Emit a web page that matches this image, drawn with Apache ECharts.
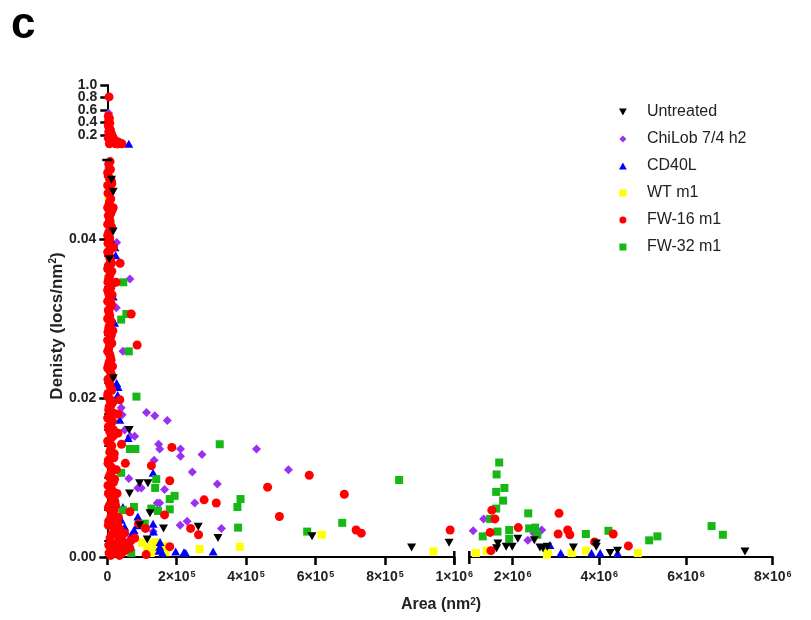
<!DOCTYPE html>
<html><head><meta charset="utf-8">
<script src="https://cdn.jsdelivr.net/npm/echarts@6/dist/echarts.min.js"></script>
<style>html,body{margin:0;padding:0;background:#fff}#c{width:811px;height:620px}</style>
</head><body><div id="c"></div>
<script>
// ---------------- DATA (x = area nm^2, y = density locs/nm^2) ----------------
const seriesNames = ['Untreated', 'ChiLob 7/4 h2', 'CD40L', 'WT m1', 'FW-16 m1', 'FW-32 m1'];

const xTicksLeft = [0, 200000, 400000, 600000, 800000, 1000000];
const xTicksRight = [2000000, 4000000, 6000000, 8000000];
const yTicksLow = [0, 0.02, 0.04];
const yTicksHigh = [0.2, 0.4, 0.6, 0.8, 1.0];
const yLabelsHighA = [0.2, 0.6, 1.0];
const yLabelsHighB = [0.4, 0.8];

const untreated = [
  [12000,0.0475],[17000,0.046],[17000,0.041],[6000,0.0375],[17000,0.0225],
  [63000,0.016],[93000,0.0093],[117000,0.0093],[64000,0.008],[123000,0.0055],[93000,0.004],
  [262000,0.0038],[162000,0.0036],[115000,0.0022],[319000,0.0024],[590000,0.0026],[877000,0.0012],[985000,0.0018],
  [1660000,0.0017],[1630000,0.0011],[1850000,0.0013],[1990000,0.0013],[2120000,0.0023],[2500000,0.0021],
  [2630000,0.0012],[2700000,0.0011],[2800000,0.0013],[3400000,0.0012],[3930000,0.0017],[3930000,0.0013],
  [4250000,0.0005],[4420000,0.0008],[7360000,0.0007]
];

const chilob = [
  [4000,0.049],[6000,0.0475],[5000,0.046],[9000,0.043],[8000,0.041],[27000,0.0396],[65000,0.035],
  [26000,0.0314],[45000,0.0259],[40000,0.0188],[43000,0.0179],
  [113000,0.0182],[137000,0.0178],[173000,0.0172],[50000,0.016],[66000,0.0152],[79000,0.0152],
  [148000,0.0142],[151000,0.0136],[211000,0.0136],[211000,0.0127],[273000,0.0129],[430000,0.0136],
  [135000,0.0122],[245000,0.0107],[522000,0.011],[62000,0.0099],[317000,0.0092],[88000,0.0087],
  [98000,0.0087],[165000,0.0085],[144000,0.0068],[151000,0.0068],[252000,0.0068],[210000,0.004],
  [230000,0.0045],[329000,0.0036],[132000,0.0032],
  [1090000,0.0033],[1330000,0.0048],[2350000,0.0021],[2490000,0.003],[2670000,0.0034],
  [4000,0.55]
];

const cd40l = [
  [8000,0.0425],[10000,0.04],[5000,0.044],[6000,0.0405],[22000,0.039],[24000,0.038],[17000,0.0328],
  [21000,0.0295],[27000,0.0219],[30000,0.0204],[26000,0.0217],[31000,0.0214],[36000,0.0173],[60000,0.015],
  [132000,0.0106],[45000,0.0063],[88000,0.0051],[40000,0.0047],[132000,0.0042],[86000,0.004],
  [50000,0.0038],[77000,0.0034],[133000,0.0032],[69000,0.0028],[64000,0.0021],[152000,0.0019],
  [151000,0.0013],[149000,0.0008],[159000,0.0005],[197000,0.0007],[221000,0.0006],[226000,0.0005],
  [305000,0.0007],[15000,0.006],[25000,0.003],[35000,0.001],
  [2860000,0.0015],[3110000,0.0005],[3820000,0.0005],[4020000,0.0005],[4420000,0.0005],
  [62000,0.06]
];

const wt = [
  [3000,0.0454],
  [100000,0.0018],[115000,0.0012],[130000,0.0016],[145000,0.0009],[160000,0.0014],[168000,0.0006],
  [125000,0.0005],[138000,0.0019],[266000,0.001],[382000,0.0013],[618000,0.0028],[940000,0.0007],
  [1150000,0.0005],[1400000,0.0008],[2790000,0.0003],[2820000,0.0007],[3360000,0.0005],[3690000,0.0008],[4890000,0.0005]
];

const fw16Column = [
  [4000,0.0495],[9000,0.0488],[3000,0.048],[12000,0.0472],[6000,0.0465],[2000,0.0458],[10000,0.0451],
  [5000,0.0444],[14000,0.0437],[3000,0.043],[8000,0.0423],[12000,0.0416],[4000,0.0409],[7000,0.0402],
  [2000,0.0395],[11000,0.0388],[5000,0.0381],[9000,0.0374],[3000,0.0367],[13000,0.036],[6000,0.0353],
  [2000,0.0346],[10000,0.0339],[4000,0.0332],[8000,0.0325],[12000,0.0318],[3000,0.0311],[7000,0.0304],
  [11000,0.0297],[5000,0.029],[2000,0.0283],[9000,0.0276],[13000,0.0269],[4000,0.0262],[7000,0.0255],
  [11000,0.0248],[3000,0.0241],[8000,0.0234],[14000,0.0227],[5000,0.022],[10000,0.0213],[2000,0.0206],
  [7000,0.0199],[12000,0.0192],[4000,0.0185],[9000,0.0178],[15000,0.0171],[3000,0.0164],[8000,0.0157],
  [12000,0.015],[5000,0.0143],[10000,0.0136],[16000,0.0129],[3000,0.0122],[8000,0.0115],[13000,0.0108],
  [5000,0.0101],[18000,0.0094],[10000,0.0087],[3000,0.008],[15000,0.0073],[7000,0.0066],[20000,0.0059],
  [11000,0.0052],[4000,0.0045],[17000,0.0038],[25000,0.0031],[8000,0.0024],[14000,0.0017],[22000,0.001],
  [5000,0.0005],[30000,0.0004],[28000,0.008],[24000,0.0065],[32000,0.005],[30000,0.0042],[36000,0.0035],
  [40000,0.0027],[45000,0.002],[38000,0.0014],[50000,0.0008],[60000,0.0015],[26000,0.011],[20000,0.013],
  [18000,0.016],[16000,0.0195],[15000,0.024],[16000,0.0285],[14000,0.033],[18000,0.039],[17000,0.044],[11000,0.0475]
];

const fw16ColumnFill = [
  [8000,0.0498],[1000,0.0484],[7000,0.0476],[1000,0.0468],[9000,0.046],[6000,0.0447],[1000,0.044],
  [10000,0.0433],[6000,0.0426],[1000,0.0419],[9000,0.0412],[1000,0.0405],[5000,0.0398],[9000,0.0391],
  [1000,0.0384],[7000,0.0377],[12000,0.037],[1000,0.0363],[8000,0.0356],[4000,0.035],[12000,0.0343],
  [1000,0.0336],[6000,0.0329],[1000,0.0322],[9000,0.0315],[5000,0.0308],[1000,0.03],[8000,0.0293],
  [4000,0.0287],[12000,0.028],[1000,0.0273],[6000,0.0266],[1000,0.0259],[9000,0.0252],[5000,0.0245],
  [1000,0.0238],[11000,0.0231],[2000,0.0224],[7000,0.0217],[13000,0.021],[1000,0.0203],[9000,0.0196],
  [5000,0.0189],[15000,0.0182],[1000,0.0175],[11000,0.0168],[6000,0.016],[18000,0.0153],[1000,0.0146],
  [13000,0.014],[7000,0.0132],[19000,0.0125],[2000,0.0118],[14000,0.0112],[9000,0.0105],[21000,0.0098],
  [2000,0.009],[16000,0.0083],[8000,0.0077],[22000,0.007],[3000,0.0062],[17000,0.0056],[9000,0.0048],
  [26000,0.0046],[3000,0.004],[20000,0.0033],[12000,0.0028],[33000,0.0021],[4000,0.0015],[25000,0.0013],
  [18000,0.0006],[10000,0.0002],[35000,0.0002],[42000,0.0005]
];

const fw16Spread = [
  [37000,0.037],[25000,0.0346],[69000,0.0306],[86000,0.0267],[36000,0.0198],[31000,0.018],[31000,0.0156],
  [186000,0.0138],[41000,0.0142],[127000,0.0115],[52000,0.0118],[582000,0.0103],[180000,0.0096],
  [462000,0.0088],[683000,0.0079],[279000,0.0072],[314000,0.0068],[65000,0.0057],[165000,0.0053],
  [496000,0.0051],[110000,0.0036],[240000,0.0036],[263000,0.0028],[717000,0.0034],[732000,0.003],
  [988000,0.0034],[90000,0.0042],[50000,0.003],[33000,0.0026],[69000,0.0021],[79000,0.0024],
  [180000,0.0013],[65000,0.0011],[41000,0.0011],[112000,0.0003],[13000,0.047],[13000,0.044],
  [1520000,0.0059],[1590000,0.0048],[1480000,0.0031],[1500000,0.0008],[2130000,0.0037],[3070000,0.0055],
  [3270000,0.0034],[3050000,0.0029],[3320000,0.0028],[4320000,0.0029],[3890000,0.0019],[4670000,0.0014]
];

const fw16Upper = [
  [5000,0.81],[3000,0.5],[6000,0.47],[4000,0.43],[7000,0.39],[3000,0.35],[6000,0.31],[9000,0.28],
  [4000,0.25],[12000,0.22],[7000,0.19],[16000,0.17],[3000,0.15],[10000,0.13],[20000,0.12],[26000,0.1],
  [32000,0.085],[38000,0.07],[14000,0.08],[6000,0.06],[22000,0.065],[42000,0.06],[30000,0.058]
];

const fw32 = [
  [3000,0.035],[46000,0.0346],[40000,0.0299],[55000,0.0306],[62000,0.0259],[84000,0.0202],[324000,0.0142],
  [65000,0.0136],[81000,0.0136],[40000,0.0106],[141000,0.0098],[138000,0.0087],[841000,0.0097],
  [180000,0.0073],[194000,0.0077],[384000,0.0073],[375000,0.0063],[77000,0.0063],[127000,0.0061],
  [146000,0.0058],[180000,0.006],[45000,0.0059],[677000,0.0043],[377000,0.0037],[108000,0.0042],
  [576000,0.0032],[27000,0.003],[69000,0.0005],
  [1690000,0.0119],[1630000,0.0104],[1620000,0.0082],[1810000,0.0087],[1780000,0.0071],[1620000,0.0061],
  [1480000,0.0048],[1650000,0.0032],[1310000,0.0026],[1920000,0.0034],[1920000,0.0023],[2360000,0.0055],
  [2380000,0.0036],[2520000,0.0037],[2570000,0.0028],[3690000,0.0029],[4210000,0.0033],[5150000,0.0021],
  [5340000,0.0026],[6590000,0.0039],[6850000,0.0028]
];

// ---------------- CHART ----------------
const FONT = 'Liberation Sans';
const LBL = '#222222';
const ICON = {
  down: 'path://M0,0L10,0L5,9Z',
  diamond: 'path://M5,0L10,5L5,10L0,5Z',
  up: 'path://M5,0L10,9L0,9Z',
  square: 'path://M0,0L10,0L10,10L0,10Z',
  circle: 'circle'
};
const groups = [
  {name: seriesNames[0], data: untreated, icon: ICON.down, size: [9, 8], color: '#000000'},
  {name: seriesNames[1], data: chilob, icon: ICON.diamond, size: [9, 9], color: '#9a30f2'},
  {name: seriesNames[2], data: cd40l, icon: ICON.up, size: [9, 8], color: '#0000ff'},
  {name: seriesNames[3], data: wt, icon: ICON.square, size: [8, 8], color: '#ffff00'},
  {name: seriesNames[4], data: fw16Column.concat(fw16ColumnFill, fw16Spread, fw16Upper), icon: ICON.circle, size: 9, color: '#ff0000'},
  {name: seriesNames[5], data: fw32, icon: ICON.square, size: [8, 8], color: '#16b816'}
];
const segs = [
  {x: 0, y: 0, test: p => p[1] <= 0.05 && p[0] <= 1e6},
  {x: 1, y: 1, test: p => p[1] <= 0.05 && p[0] > 1e6},
  {x: 2, y: 2, test: p => p[1] > 0.05}
];
const drawOrder = [3, 1, 2, 5, 4, 0];
const series = [];
drawOrder.forEach(gi => {
  const g = groups[gi];
  segs.forEach(s => series.push({
    type: 'scatter', name: g.name, xAxisIndex: s.x, yAxisIndex: s.y,
    symbol: g.icon, symbolSize: g.size, itemStyle: {color: g.color, opacity: 1},
    emphasis: {disabled: true}, silent: true,
    data: g.data.filter(s.test)
  }));
});

const lineStyle = {color: '#000', width: 2};
const tickStyle = {color: '#000', width: 2.5};
const labelBase = {color: LBL, fontFamily: FONT, fontWeight: 'bold', fontSize: 14, hideOverlap: false,
                   showMinLabel: true, showMaxLabel: true};
const supStyle = {color: LBL, fontFamily: FONT, fontWeight: 'bold', fontSize: 9, verticalAlign: 'top', padding: [0, 0, 0, 1]};
const sci = (v, p) => (v / Math.pow(10, p)) + '×10{s|' + p + '}';

const chart = echarts.init(document.getElementById('c'));
chart.setOption({
  animation: false,
  backgroundColor: '#ffffff',
  grid: [
    {left: 107.3, top: 160, width: 347, height: 397},
    {left: 469.3, top: 160, width: 303.4, height: 397},
    {left: 107.3, top: 85, width: 347, height: 59.4}
  ],
  xAxis: [
    {type: 'value', gridIndex: 0, min: 0, max: 1e6, interval: 2e5,
     axisLine: {show: true, onZero: false, lineStyle}, splitLine: {show: false},
     axisTick: {show: true, length: 8, lineStyle: tickStyle, customValues: xTicksLeft},
     axisLabel: Object.assign({}, labelBase, {margin: 13, customValues: xTicksLeft,
       formatter: v => v === 0 ? '0' : (v >= 1e6 ? sci(v, 6) : sci(v, 5)), rich: {s: supStyle}})},
    {type: 'value', gridIndex: 1, min: 1e6, max: 8e6, interval: 1e6,
     axisLine: {show: true, onZero: false, lineStyle}, splitLine: {show: false},
     axisTick: {show: true, length: 8, lineStyle: tickStyle, customValues: xTicksRight},
     axisLabel: Object.assign({}, labelBase, {margin: 13, customValues: xTicksRight,
       formatter: v => sci(v, 6), rich: {s: supStyle}})},
    {type: 'value', gridIndex: 2, min: 0, max: 1e6, show: false}
  ],
  yAxis: [
    {type: 'value', gridIndex: 0, position: 'left', min: 0, max: 0.05, interval: 0.01,
     axisLine: {show: true, onZero: false, lineStyle}, splitLine: {show: false},
     axisTick: {show: true, length: 8, lineStyle: tickStyle, customValues: yTicksLow},
     axisLabel: Object.assign({}, labelBase, {margin: 11, customValues: yTicksLow, formatter: v => v.toFixed(2)})},
    {type: 'value', gridIndex: 1, min: 0, max: 0.05, show: false},
    {type: 'value', gridIndex: 2, position: 'left', min: 0.05, max: 1, interval: 0.05,
     axisLine: {show: true, onZero: false, lineStyle}, splitLine: {show: false},
     axisTick: {show: true, length: 7, lineStyle: tickStyle, customValues: yTicksHigh},
     axisLabel: Object.assign({}, labelBase, {margin: 10, lineHeight: 12,
       customValues: yLabelsHighA, formatter: v => v.toFixed(1)})},
    {type: 'value', gridIndex: 0, position: 'left', min: 0, max: 0.05, interval: 0.002,
     axisLine: {show: false}, splitLine: {show: false}, axisLabel: {show: false},
     axisTick: {show: true, length: 3, lineStyle: {color: '#000', width: 2}}},
    {type: 'value', gridIndex: 2, position: 'left', min: 0.05, max: 1, interval: 0.05,
     axisLine: {show: false}, splitLine: {show: false}, axisTick: {show: false},
     axisLabel: Object.assign({}, labelBase, {margin: 10, lineHeight: 12,
       customValues: yLabelsHighB, formatter: v => v.toFixed(1)})}
  ],
  legend: {
    orient: 'vertical', left: 614, top: 98, itemWidth: 38, itemHeight: 7, itemGap: 9,
    selectedMode: false,
    textStyle: {fontSize: 16, fontFamily: FONT, color: LBL, lineHeight: 18},
    data: groups.map(g => ({name: g.name, icon: g.icon, itemStyle: {color: g.color}}))
  },
  series: series
});

const pA = chart.convertToPixel({gridIndex: 0}, [1e6, 0]);
const pB = chart.convertToPixel({gridIndex: 1}, [1e6, 0]);
const pC = chart.convertToPixel({gridIndex: 0}, [0, 0.05]);
const capStyle = {stroke: '#000', lineWidth: 2.5};
chart.setOption({
  graphic: [
    {type: 'line', id: 'capA', shape: {x1: pA[0], y1: pA[1] - 6, x2: pA[0], y2: pA[1] + 7}, style: capStyle, z: 100},
    {type: 'line', id: 'capB', shape: {x1: pB[0], y1: pB[1] - 6, x2: pB[0], y2: pB[1] + 7}, style: capStyle, z: 100},
    {type: 'line', id: 'capC', shape: {x1: pC[0] - 5, y1: pC[1], x2: pC[0] + 5, y2: pC[1]}, style: capStyle, z: 100},
    {type: 'text', id: 'panel', left: 11, top: 4, style: {text: 'c', font: 'bold 44px "Liberation Sans"', fill: '#000'}},
    {type: 'text', id: 'xtitle', x: 441, y: 605,
     style: {text: 'Area (nm{s|2})', font: 'bold 16px "Liberation Sans"', fill: LBL, align: 'center', verticalAlign: 'middle',
             rich: {s: {font: 'bold 10px "Liberation Sans"', fill: LBL, verticalAlign: 'top'}}}},
    {type: 'text', id: 'ytitle', x: 57, y: 326, rotation: Math.PI / 2,
     style: {text: 'Denisty (locs/nm{s|2})', font: 'bold 17px "Liberation Sans"', fill: LBL, align: 'center', verticalAlign: 'middle',
             rich: {s: {font: 'bold 10px "Liberation Sans"', fill: LBL, verticalAlign: 'top'}}}}
  ]
});
</script>
</body></html>
